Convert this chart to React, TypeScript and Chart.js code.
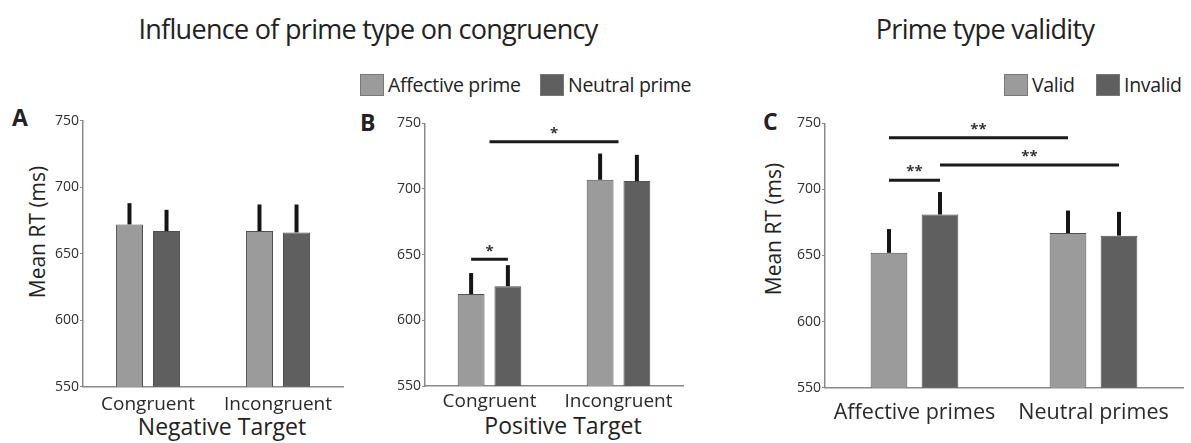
import React, { useEffect, useRef } from "react";
import { Chart, registerables } from "chart.js";

Chart.register(...registerables);

// ---------- Data ----------
const targetCategories = ["Congruent", "Incongruent"];
const negAffective = [672, 667];
const negAffectiveErr = [16, 20];
const negNeutral = [667, 666];
const negNeutralErr = [16, 21];

const posAffective = [620, 707];
const posAffectiveErr = [16, 20];
const posNeutral = [626, 706];
const posNeutralErr = [16, 20];

const primeCategories = ["Affective primes", "Neutral primes"];
const validRT = [652, 667];
const validErr = [18, 17];
const invalidRT = [681, 665];
const invalidErr = [17, 18];

const yTicks = [550, 600, 650, 700, 750];

// significance brackets: from/to = [category, dataset (-1 = category centre)]
type Sig = { from: [number, number]; to: [number, number]; y: number; label: string };
const sigB: Sig[] = [
  { from: [0, 0], to: [0, 1], y: 646.5, label: "*" },
  { from: [0, -1], to: [1, -1], y: 736, label: "*" },
];
const sigC: Sig[] = [
  { from: [0, 0], to: [1, 0], y: 739, label: "**" },
  { from: [0, 1], to: [1, 1], y: 718.5, label: "**" },
  { from: [0, 0], to: [0, 1], y: 707, label: "**" },
];

const LIGHT = "#9b9b9b";
const DARK = "#5f5f5f";
const BORDER = "#505050";
const FONT = "'Open Sans', 'Noto Sans', sans-serif";

const errorBarPlugin = {
  id: "errorBars",
  afterDatasetsDraw(chart: any) {
    const errs: number[][] = chart.options.plugins.errorBars?.errors || [];
    const { ctx } = chart;
    const y = chart.scales.y;
    ctx.save();
    ctx.strokeStyle = "#151515";
    ctx.lineWidth = 4;
    chart.data.datasets.forEach((ds: any, di: number) => {
      const meta = chart.getDatasetMeta(di);
      meta.data.forEach((bar: any, i: number) => {
        const e = errs[di]?.[i];
        if (e == null) return;
        const v = ds.data[i];
        ctx.beginPath();
        ctx.moveTo(bar.x, y.getPixelForValue(v));
        ctx.lineTo(bar.x, y.getPixelForValue(v + e));
        ctx.stroke();
      });
    });
    ctx.restore();
  },
};

const sigPlugin = {
  id: "sigLines",
  afterDatasetsDraw(chart: any) {
    const sigs: Sig[] = chart.options.plugins.sigLines?.items || [];
    const { ctx } = chart;
    const xs = chart.scales.x;
    const ys = chart.scales.y;
    const px = (c: number, d: number) => {
      if (d < 0) return xs.getPixelForValue(c);
      const bar: any = chart.getDatasetMeta(d).data[c];
      return bar.x;
    };
    ctx.save();
    sigs.forEach((s) => {
      const a = px(s.from[0], s.from[1]);
      const b = px(s.to[0], s.to[1]);
      const yy = ys.getPixelForValue(s.y);
      ctx.strokeStyle = "#1a1a1a";
      ctx.lineWidth = 3;
      ctx.beginPath();
      ctx.moveTo(a, yy);
      ctx.lineTo(b, yy);
      ctx.stroke();
      ctx.fillStyle = "#333";
      ctx.font = `bold 15px ${FONT}`;
      ctx.textAlign = "center";
      ctx.textBaseline = "middle";
      ctx.fillText(s.label, (a + b) / 2, yy - 8);
    });
    ctx.restore();
  },
};

type PanelProps = {
  left: number;
  top: number;
  width: number;
  height: number;
  yWidth: number;
  xHeight: number;
  padTop: number;
  padRight: number;
  labels: string[];
  names: [string, string];
  values: [number[], number[]];
  errors: [number[], number[]];
  sigs: Sig[];
  xFontSize: number;
  xPad: number;
  catPct: number;
  barPct: number;
};

function Panel(p: PanelProps) {
  const ref = useRef<HTMLCanvasElement>(null);
  useEffect(() => {
    if (!ref.current) return;
    const chart = new Chart(ref.current, {
      type: "bar",
      data: {
        labels: p.labels,
        datasets: [
          {
            label: p.names[0],
            data: p.values[0],
            backgroundColor: LIGHT,
            borderColor: BORDER,
            borderWidth: 1,
            categoryPercentage: p.catPct,
            barPercentage: p.barPct,
          },
          {
            label: p.names[1],
            data: p.values[1],
            backgroundColor: DARK,
            borderColor: BORDER,
            borderWidth: 1,
            categoryPercentage: p.catPct,
            barPercentage: p.barPct,
          },
        ],
      },
      options: {
        animation: false,
        responsive: false,
        maintainAspectRatio: false,
        layout: { padding: { top: p.padTop, right: p.padRight, left: 0, bottom: 0 } },
        plugins: {
          legend: { display: false },
          tooltip: { enabled: false },
          errorBars: { errors: p.errors },
          sigLines: { items: p.sigs },
        } as any,
        scales: {
          x: {
            grid: { display: false, drawTicks: false },
            border: { display: true, color: "#8a8a8a", width: 1.5 },
            ticks: {
              color: "#2a2a2a",
              font: { family: FONT, size: p.xFontSize },
              padding: p.xPad,
            },
            afterFit: (s: any) => {
              s.height = p.xHeight;
            },
          },
          y: {
            min: 550,
            max: 750,
            afterBuildTicks: (s: any) => {
              s.ticks = yTicks.map((v) => ({ value: v }));
            },
            grid: { drawOnChartArea: false, tickLength: 3, color: "#8a8a8a" },
            border: { display: true, color: "#8a8a8a", width: 1.5 },
            ticks: {
              color: "#2e2e2e",
              font: { family: FONT, size: 14 },
              padding: 1,
            },
            afterFit: (s: any) => {
              s.width = p.yWidth;
            },
          },
        },
      },
      plugins: [errorBarPlugin, sigPlugin],
    });
    return () => chart.destroy();
  }, []);
  return (
    <canvas
      ref={ref}
      width={p.width}
      height={p.height}
      style={{ position: "absolute", left: p.left, top: p.top, width: p.width, height: p.height }}
    />
  );
}

const txt = (extra: React.CSSProperties): React.CSSProperties => ({
  position: "absolute",
  fontFamily: FONT,
  color: "#222",
  whiteSpace: "nowrap",
  lineHeight: 1,
  ...extra,
});

function LegendItem({ x, y, color, label }: { x: number; y: number; color: string; label: string }) {
  return (
    <>
      <div
        style={{
          position: "absolute",
          left: x,
          top: y,
          width: 24,
          height: 22,
          background: color,
          border: "1px solid #777",
          boxSizing: "border-box",
        }}
      />
      <div style={txt({ left: x + 28, top: y + 1, fontSize: 19.5, letterSpacing: -0.3 })}>{label}</div>
    </>
  );
}

export default function App() {
  return (
    <div
      style={{
        position: "absolute",
        left: 0,
        top: 0,
        width: 1191,
        height: 443,
        background: "#fff",
        overflow: "hidden",
      }}
    >
      <div style={txt({ left: 368, top: 15, fontSize: 27, transform: "translateX(-50%)", letterSpacing: -0.7 })}>
        Influence of prime type on congruency
      </div>
      <div style={txt({ left: 985, top: 15, fontSize: 27, transform: "translateX(-50%)", letterSpacing: -0.7 })}>
        Prime type validity
      </div>

      <LegendItem x={360} y={74} color={LIGHT} label="Affective prime" />
      <LegendItem x={540} y={74} color={DARK} label="Neutral prime" />
      <LegendItem x={1004} y={74} color={LIGHT} label="Valid" />
      <LegendItem x={1096} y={74} color={DARK} label="Invalid" />

      <div style={txt({ left: 12, top: 106, fontSize: 23, fontWeight: 700 })}>A</div>
      <div style={txt({ left: 360, top: 111, fontSize: 23, fontWeight: 700 })}>B</div>
      <div style={txt({ left: 763, top: 110, fontSize: 23, fontWeight: 700 })}>C</div>

      <div
        style={txt({
          left: 37,
          top: 232,
          fontSize: 21,
          transform: "translate(-50%, -50%) rotate(-90deg)",
        })}
      >
        Mean RT (ms)
      </div>
      <div
        style={txt({
          left: 773,
          top: 229,
          fontSize: 21,
          transform: "translate(-50%, -50%) rotate(-90deg)",
        })}
      >
        Mean RT (ms)
      </div>

      <div style={txt({ left: 222, top: 426, fontSize: 23, transform: "translate(-50%, -50%)" })}>
        Negative Target
      </div>
      <div style={txt({ left: 563, top: 425, fontSize: 23, transform: "translate(-50%, -50%)" })}>
        Positive Target
      </div>

      <Panel
        left={0}
        top={100}
        width={352}
        height={343}
        yWidth={83}
        xHeight={56.3}
        padTop={20.7}
        padRight={9}
        labels={targetCategories}
        names={["Affective prime", "Neutral prime"]}
        values={[negAffective, negNeutral]}
        errors={[negAffectiveErr, negNeutralErr]}
        sigs={[]}
        xFontSize={19}
        xPad={6}
        catPct={0.57}
        barPct={0.73}
      />
      <Panel
        left={352}
        top={100}
        width={340}
        height={343}
        yWidth={73}
        xHeight={57}
        padTop={23.3}
        padRight={9}
        labels={targetCategories}
        names={["Affective prime", "Neutral prime"]}
        values={[posAffective, posNeutral]}
        errors={[posAffectiveErr, posNeutralErr]}
        sigs={sigB}
        xFontSize={19}
        xPad={4}
        catPct={0.57}
        barPct={0.73}
      />
      <Panel
        left={745}
        top={100}
        width={446}
        height={343}
        yWidth={80}
        xHeight={55.3}
        padTop={23.3}
        padRight={8}
        labels={primeCategories}
        names={["Valid", "Invalid"]}
        values={[validRT, invalidRT]}
        errors={[validErr, invalidErr]}
        sigs={sigC}
        xFontSize={21.5}
        xPad={12}
        catPct={0.57}
        barPct={0.72}
      />
    </div>
  );
}
